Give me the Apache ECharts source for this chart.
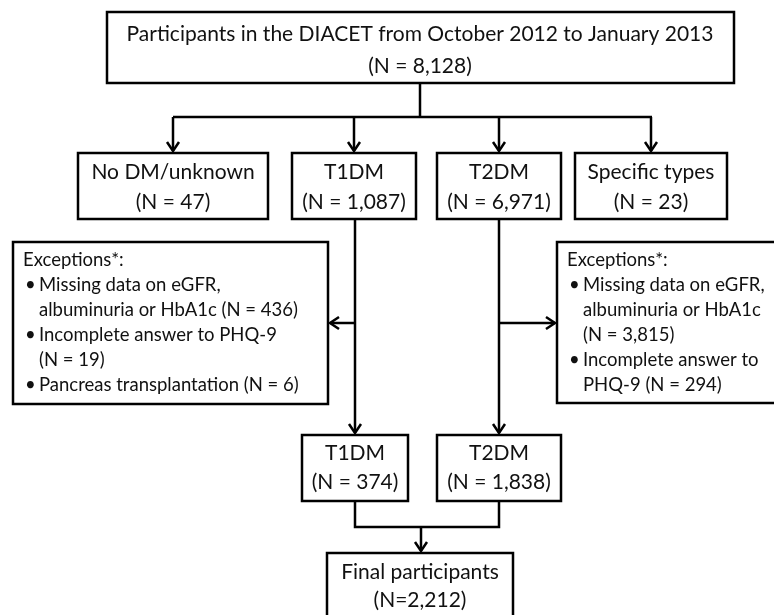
<!DOCTYPE html>
<html>
<head>
<meta charset="utf-8">
<script src="https://cdn.jsdelivr.net/npm/echarts@6/dist/echarts.min.js"></script>
<style>
  html, body { margin: 0; padding: 0; background: #fff; }
  #chart { width: 774px; height: 615px; }
</style>
</head>
<body>
<div id="chart"></div>
<script>
// flowchart texts and counts
var studyTitle = "Participants in the DIACET from October 2012 to January 2013";
var totalN = "8,128";
var diagnosisGroups = ["No DM/unknown", "T1DM", "T2DM", "Specific types"];
var diagnosisN = ["47", "1,087", "6,971", "23"];
var t1Exceptions = [
  ["Missing data on eGFR,", "albuminuria or HbA1c (N = 436)"],
  ["Incomplete answer to PHQ-9", "(N = 19)"],
  ["Pancreas transplantation (N = 6)"]
];
var t2Exceptions = [
  ["Missing data on eGFR,", "albuminuria or HbA1c", "(N = 3,815)"],
  ["Incomplete answer to", "PHQ-9 (N = 294)"]
];
var analysedGroups = ["T1DM", "T2DM"];
var analysedN = ["374", "1,838"];
var finalLabel = "Final participants";
var finalN = "2,212";

var FONT = "Lato, 'Noto Sans', sans-serif";
var MAIN = 21;     // box text size
var SMALL = 18.5;  // exception text size
var LW = 2.5;

var els = [];

function box(x, y, w, h) {
  els.push({
    type: "rect",
    shape: { x: x, y: y, width: w, height: h },
    style: { fill: "#fff", stroke: "#000", lineWidth: LW }
  });
}
function label(txt, x, y, size, align) {
  els.push({
    type: "text",
    style: {
      text: txt, x: x, y: y,
      font: size + "px " + FONT,
      fill: "#111",
      align: align || "center",
      verticalAlign: "middle"
    },
    z: 10
  });
}
function line(points) {
  els.push({
    type: "polyline",
    shape: { points: points },
    style: { stroke: "#000", lineWidth: LW, fill: null }
  });
}
// open arrow head, tip at (x, y)
function head(x, y, dir) {
  var a = 9, b = 6, pts;
  if (dir === "down") pts = [[x - b, y - a], [x, y], [x + b, y - a]];
  if (dir === "left") pts = [[x + a, y - b], [x, y], [x + a, y + b]];
  if (dir === "right") pts = [[x - a, y - b], [x, y], [x - a, y + b]];
  line(pts);
}

// top box
box(107, 12, 627, 71);
label(studyTitle, 420, 34, MAIN);
label("(N = " + totalN + ")", 420, 66, MAIN);

// split into diagnosis groups
var rowX = [[78, 190], [292, 124], [437, 124], [575, 152]];
line([[420, 83], [420, 117]]);
line([[173, 117], [652, 117]]);
rowX.forEach(function (r, i) {
  var cx = r[0] + r[1] / 2;
  line([[cx, 117], [cx, 151]]);
  head(cx, 151, "down");
  box(r[0], 153, r[1], 66);
  label(diagnosisGroups[i], cx, 172, MAIN);
  label("(N = " + diagnosisN[i] + ")", cx, 202, MAIN);
});

// exception boxes
function exceptionBox(x, y, w, h, items) {
  box(x, y, w, h);
  label("Exceptions*:", x + 10, y + 18, SMALL, "left");
  var ly = y + 18 + 25;
  items.forEach(function (it) {
    label("\u2022", x + 12, ly, SMALL, "left");
    it.forEach(function (t) {
      label(t, x + 26, ly, SMALL, "left");
      ly += 25;
    });
  });
}
exceptionBox(13, 242, 315, 162, t1Exceptions);
exceptionBox(557, 242, 230, 161, t2Exceptions);

// T1DM / T2DM flows
line([[355, 219], [355, 433]]);
head(355, 433, "down");
line([[355, 323], [330, 323]]);
head(330, 323, "left");
line([[499, 219], [499, 433]]);
head(499, 433, "down");
line([[499, 323], [555, 323]]);
head(555, 323, "right");

var lowX = [[302, 106], [437, 124]];
lowX.forEach(function (r, i) {
  var cx = r[0] + r[1] / 2;
  box(r[0], 435, r[1], 66);
  label(analysedGroups[i], cx, 453, MAIN);
  label("(N = " + analysedN[i] + ")", cx, 482, MAIN);
});

// merge to final
line([[355, 501], [355, 527], [499, 527], [499, 501]]);
line([[421, 527], [421, 551]]);
head(421, 551, "down");
box(327, 553, 186, 80);
label(finalLabel, 420, 572, MAIN);
label("(N=" + finalN + ")", 420, 600, MAIN);

var chart = echarts.init(document.getElementById("chart"), null, { renderer: "canvas" });
chart.setOption({
  backgroundColor: "#fff",
  animation: false,
  graphic: { elements: els }
});
</script>
</body>
</html>
